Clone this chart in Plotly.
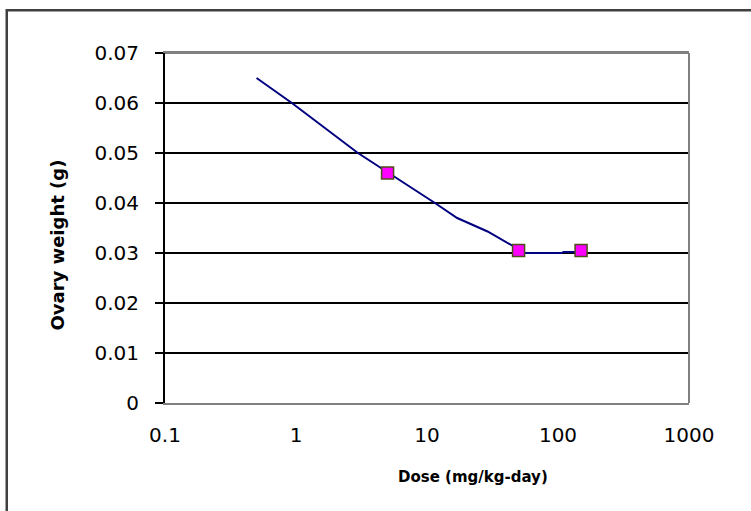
import plotly.graph_objects as go

# Observed data (markers)
obs_dose = [5, 50, 150]
obs_weight = [0.046, 0.0305, 0.0305]

# Model curve
curve_dose = [0.5, 0.93, 2.97, 5, 11.5, 17, 29, 46, 50, 55, 107, 110, 140]
curve_weight = [0.065, 0.060, 0.050, 0.0462, 0.040, 0.037, 0.0343, 0.0313, 0.0305, 0.0300, 0.0300, 0.0302, 0.0302]

x_tickvals = [0.1, 1, 10, 100, 1000]
x_ticktext = ["0.1", "1", "10", "100", "1000"]
y_tickvals = [0, 0.01, 0.02, 0.03, 0.04, 0.05, 0.06, 0.07]
y_ticktext = ["0", "0.01", "0.02", "0.03", "0.04", "0.05", "0.06", "0.07"]

x_title = "Dose (mg/kg-day)"
y_title = "Ovary weight (g)"

fig = go.Figure()
fig.add_trace(go.Scatter(
    x=curve_dose, y=curve_weight, mode="lines",
    line=dict(color="#000080", width=2), showlegend=False, hoverinfo="skip"))
fig.add_trace(go.Scatter(
    x=obs_dose, y=obs_weight, mode="markers",
    marker=dict(symbol="square", size=12, color="#FF00FF",
                line=dict(color="#4d4d1a", width=1.5)),
    showlegend=False))

tick_font = dict(family="DejaVu Sans, Arial, sans-serif", size=20, color="#000000")

fig.update_layout(
    width=751, height=511,
    margin=dict(l=165, r=62, t=53, b=108),
    paper_bgcolor="white", plot_bgcolor="white",
    xaxis=dict(
        type="log", range=[-1, 3],
        tickvals=x_tickvals, ticktext=x_ticktext,
        showgrid=False, zeroline=False,
        showline=True, linecolor="#808080", linewidth=2, mirror=True,
        ticks="", ticklabelstandoff=13,
        tickfont=tick_font,
    ),
    yaxis=dict(
        range=[0, 0.07],
        tickvals=y_tickvals, ticktext=y_ticktext,
        showgrid=True, gridcolor="#000000", gridwidth=2,
        zeroline=False,
        showline=True, linecolor="#000000", linewidth=2,
        ticks="outside", ticklen=8, tickwidth=2, tickcolor="#000000",
        ticklabelstandoff=12,
        tickfont=tick_font,
    ),
    shapes=[
        # right edge of plot frame (gray)
        dict(type="line", xref="paper", yref="paper", x0=1, x1=1, y0=0, y1=1,
             line=dict(color="#808080", width=2)),
        # top edge of plot frame (gray)
        dict(type="line", xref="paper", yref="paper", x0=0, x1=1, y0=1, y1=1,
             line=dict(color="#808080", width=2)),
        # outer chart border
        dict(type="rect", xref="paper", yref="paper",
             x0=-0.302, x1=1.16, y0=-0.4, y1=1.122,
             line=dict(color="#404040", width=2.5)),
    ],
    annotations=[
        dict(text="<b>" + x_title + "</b>", xref="paper", yref="paper",
             x=0.587, y=-0.211, xanchor="center", yanchor="middle", showarrow=False,
             font=dict(family="DejaVu Sans, Arial, sans-serif", size=15, color="#000000")),
        dict(text="<b>" + y_title + "</b>", xref="paper", yref="paper",
             x=-0.206, y=0.45, xanchor="center", yanchor="middle", showarrow=False,
             textangle=-90,
             font=dict(family="DejaVu Sans, Arial, sans-serif", size=18, color="#000000")),
    ],
)

fig.write_html("out.html",
               config={"displayModeBar": False},
               post_script="document.body.style.margin='0';document.body.style.padding='0';")
